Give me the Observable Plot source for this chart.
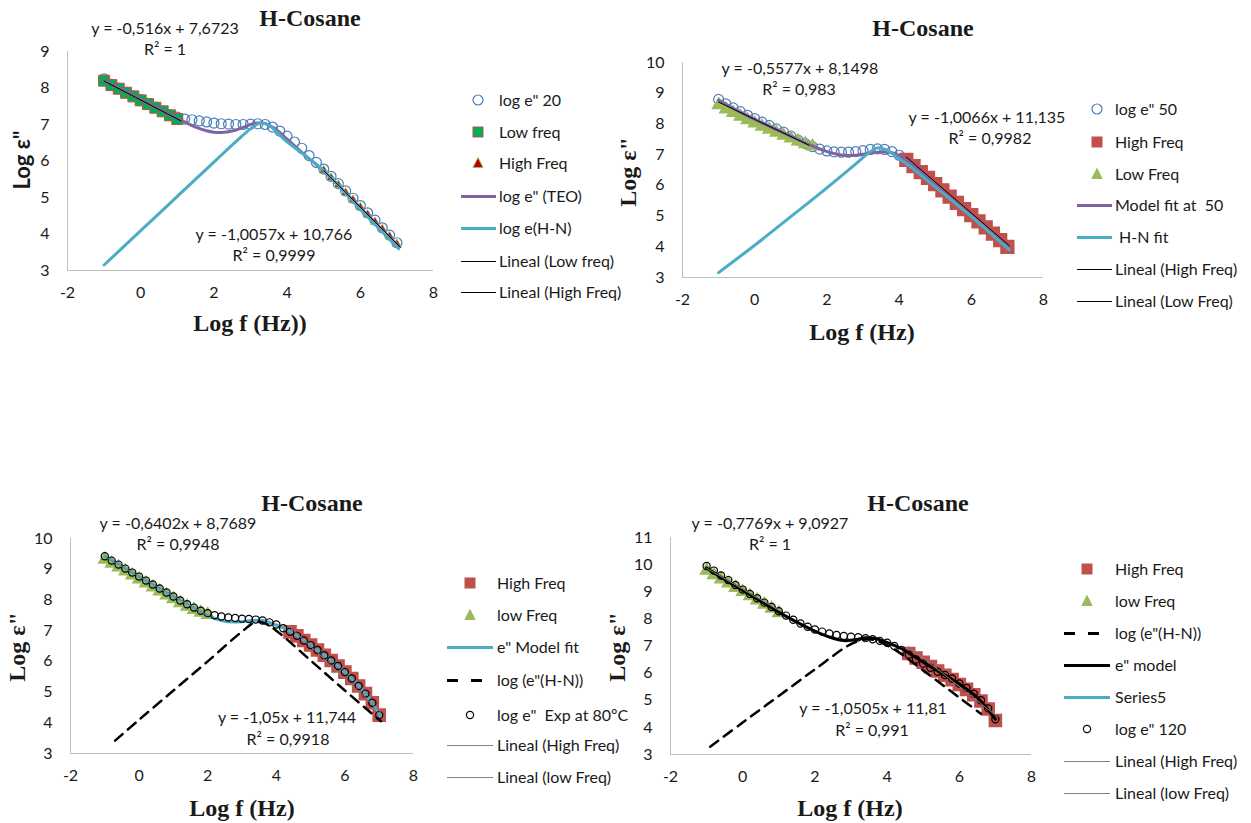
<!DOCTYPE html>
<html><head><meta charset="utf-8">
<script src="https://cdn.jsdelivr.net/npm/d3@7"></script>
<script src="https://cdn.jsdelivr.net/npm/@observablehq/plot@0.6"></script>
<style>
body{margin:0;width:1251px;height:823px;position:relative;background:#fff;overflow:hidden;font-family:Lato,sans-serif;color:#1a1a1a}
.abs{position:absolute;white-space:pre;line-height:1}
.title{font-family:"Liberation Serif",serif;font-weight:bold;font-size:24px;transform:translate(-50%,-50%)}
.ylab{font-family:"Liberation Serif",serif;font-weight:bold;font-size:24px;transform:translate(-50%,-50%) rotate(-90deg)}
.ylabs{font-family:Lato,sans-serif;font-weight:bold;font-size:22px;transform:translate(-50%,-50%) rotate(-90deg)}
.ann{font-size:16px;transform:translate(-50%,-50%)}
.leg{font-size:16px;transform:translateY(-50%)}
</style></head><body>
<script>
// ---------- shared ----------
const xTicks = [-2,0,2,4,6,8];
const grid = [-1,-0.8,-0.6,-0.4,-0.2,0,0.2,0.4,0.6,0.8,1,1.2,1.4,1.6,1.8,2,2.2,2.4,2.6,2.8,3,3.2,3.4,3.6,3.8,4,4.2,4.4,4.6,4.8,5,5.2,5.4,5.6,5.8,6,6.2,6.4,6.6,6.8,7];

// ---------- panel 1 (20) ----------
const p1YTicks = [3,4,5,6,7,8,9];
const p1Circle = [8.25,8.1,8.0,7.88,7.78,7.68,7.58,7.47,7.37,7.27,7.2,7.15,7.13,7.1,7.07,7.04,7.02,7.01,7.0,7.0,7.01,7.02,7.0,6.93,6.82,6.68,6.52,6.35,6.15,5.96,5.78,5.58,5.38,5.18,4.98,4.78,4.58,4.38,4.17,3.97,3.76];
const p1LowX = [-1,-0.8,-0.6,-0.4,-0.2,0,0.2,0.4,0.6,0.8,1];
const p1LowY = [8.2,8.08,7.98,7.87,7.77,7.66,7.56,7.46,7.36,7.25,7.15];
const p1HighX = [5,5.2,5.4,5.6,5.8,6,6.2,6.4,6.6,6.8,7];
const p1HighY = [5.74,5.54,5.34,5.13,4.93,4.73,4.53,4.33,4.13,3.93,3.72];
const p1TeoX = [-1,-0.5,0,0.5,1,1.2,1.5,1.8,2,2.2,2.5,2.8,3,3.2,3.4,3.6,3.8,4,4.5,5,6,7.05];
const p1TeoY = [8.2,7.95,7.68,7.42,7.17,7.07,6.93,6.83,6.79,6.78,6.82,6.92,7.0,7.04,7.03,6.93,6.78,6.6,6.15,5.72,4.72,3.66];
const p1HnX = [-1,0,1,2,2.6,3,3.27,3.5,3.96,5,6,7.05];
const p1HnY = [3.15,4.09,5.03,5.97,6.53,6.88,7.04,6.98,6.56,5.74,4.68,3.6];
const p1LinLowX = [-1,1.1], p1LinLowY = [8.19,7.1];
const p1LinHighX = [5,7.1], p1LinHighY = [5.74,3.63];
const p1Legend = ['log e" 20','Low freq','High Freq','log e" (TEO)','log e(H-N)','Lineal (Low freq)','Lineal (High Freq)'];
const p1Notes = ["y = -0,516x + 7,6723","R² = 1","y = -1,0057x + 10,766","R² = 0,9999"];

// ---------- panel 2 (50) ----------
const p2YTicks = [3,4,5,6,7,8,9,10];
const p2Circle = [8.8,8.65,8.52,8.4,8.28,8.17,8.06,7.95,7.84,7.73,7.6,7.47,7.36,7.26,7.18,7.12,7.09,7.08,7.08,7.1,7.13,7.17,7.19,7.17,7.1,6.98,6.85,6.66,6.46,6.26,6.06,5.86,5.66,5.46,5.26,5.06,4.86,4.66,4.46,4.26,4.05];
const p2HighX = [4.2,4.4,4.6,4.8,5,5.2,5.4,5.6,5.8,6,6.2,6.4,6.6,6.8,7];
const p2HighY = [6.83,6.63,6.43,6.24,6.04,5.84,5.63,5.43,5.23,5.03,4.83,4.63,4.43,4.22,4.0];
const p2LowX = [-1,-0.8,-0.6,-0.4,-0.2,0,0.2,0.4,0.6,0.8,1,1.2,1.4,1.6];
const p2LowY = [8.62,8.48,8.36,8.24,8.13,8.02,7.92,7.82,7.72,7.62,7.53,7.44,7.35,7.27];
const p2ModelX = [-1,-0.5,0,0.5,1,1.5,2,2.4,2.8,3.2,3.5,3.8,4,4.2,5,6,7.05];
const p2ModelY = [8.78,8.45,8.15,7.87,7.6,7.33,7.1,6.99,6.98,7.05,7.09,7.06,6.97,6.85,6.0,5.0,3.95];
const p2HnX = [-1,0,1,2,2.8,3.1,3.4,3.7,4,4.3,5,6,7.05];
const p2HnY = [3.16,4.05,4.98,5.92,6.7,7.0,7.22,7.12,6.87,6.62,5.95,4.98,3.9];
const p2LinHighX = [4.2,7.05], p2LinHighY = [6.92,4.04];
const p2LinLowX = [-1,1.5], p2LinLowY = [8.71,7.31];
const p2Legend = ['log e" 50','High Freq','Low Freq','Model fit at  50',' H-N fit','Lineal (High Freq)','Lineal (Low Freq)'];
const p2Notes = ["y = -0,5577x + 8,1498","R² = 0,983","y = -1,0066x + 11,135","R² = 0,9982"];

// ---------- panel 3 (80) ----------
const p3YTicks = [3,4,5,6,7,8,9,10];
const p3Circle = [9.42,9.28,9.15,9.02,8.89,8.76,8.63,8.5,8.37,8.24,8.11,7.98,7.86,7.75,7.65,7.57,7.5,7.46,7.43,7.41,7.39,7.38,7.36,7.33,7.27,7.2,7.08,6.96,6.83,6.68,6.53,6.37,6.2,6.03,5.85,5.65,5.44,5.2,4.95,4.65,4.25];
const p3LowX = [-1,-0.8,-0.6,-0.4,-0.2,0,0.2,0.4,0.6,0.8,1,1.2,1.4,1.6,1.8,2];
const p3LowY = [9.32,9.19,9.06,8.93,8.8,8.67,8.54,8.41,8.28,8.15,8.03,7.9,7.79,7.68,7.59,7.52];
const p3HighX = [4.4,4.6,4.8,5,5.2,5.4,5.6,5.8,6,6.2,6.4,6.6,6.8,7];
const p3HighY = [6.96,6.83,6.68,6.53,6.37,6.2,6.03,5.85,5.65,5.44,5.2,4.95,4.65,4.25];
const p3ModelX = [-1,0,1,1.5,2,2.4,2.8,3.2,3.6,4,4.4,5,6,6.6,7.05];
const p3ModelY = [9.42,8.76,8.1,7.8,7.5,7.33,7.28,7.32,7.33,7.18,6.98,6.53,5.65,4.95,4.2];
const p3HnX = [-0.7,0,1,2,3,3.4,3.7,4,5,6,7.05];
const p3HnY = [3.42,4.1,5.05,6.0,6.97,7.28,7.22,7.0,6.03,5.05,4.05];
const p3LinHighX = [4.4,7.05], p3LinHighY = [7.12,4.34];
const p3LinLowX = [-1,2], p3LinLowY = [9.41,7.49];
const p3Legend = ['High Freq','low Freq','e" Model fit','log (e"(H-N))','log e"  Exp at 80ºC','Lineal (High Freq)','Lineal (low Freq)'];
const p3Notes = ["y = -0,6402x + 8,7689","R² = 0,9948","y = -1,05x + 11,744","R² = 0,9918"];

// ---------- panel 4 (120) ----------
const p4YTicks = [3,4,5,6,7,8,9,10,11];
const p4Circle = [9.95,9.78,9.6,9.43,9.25,9.08,8.92,8.76,8.6,8.44,8.28,8.12,7.97,7.83,7.71,7.61,7.53,7.46,7.41,7.37,7.34,7.32,7.29,7.25,7.19,7.12,7.0,6.85,6.68,6.5,6.35,6.2,6.05,5.93,5.8,5.62,5.45,5.24,5.0,4.7,4.3];
const p4LowX = [-1,-0.8,-0.6,-0.4,-0.2,0,0.2,0.4,0.6,0.8,1];
const p4LowY = [9.78,9.62,9.46,9.31,9.15,9.0,8.84,8.69,8.53,8.38,8.22];
const p4HighX = [4.6,4.8,5,5.2,5.4,5.6,5.8,6,6.2,6.4,6.6,6.8,7];
const p4HighY = [6.72,6.56,6.4,6.24,6.08,5.92,5.76,5.58,5.4,5.2,4.97,4.68,4.25];
const p4ModelX = [-1,-0.5,0,0.5,1,1.5,2,2.4,2.8,3.1,3.4,3.7,4,4.4,5,5.5,6,6.5,7];
const p4ModelY = [9.88,9.45,9.05,8.65,8.25,7.88,7.55,7.33,7.2,7.23,7.3,7.27,7.13,6.9,6.4,6.0,5.6,5.1,4.3];
const p4HnX = [-0.9,0,1,2,2.9,3.2,3.5,3.8,4.1,4.4,5,6,6.6];
const p4HnY = [3.29,4.18,5.16,6.14,7.0,7.18,7.25,7.15,6.95,6.7,6.1,5.1,4.5];
const p4LinHighX = [4.6,7.05], p4LinHighY = [6.98,4.4];
const p4LinLowX = [-1,1], p4LinLowY = [9.87,8.32];
const p4Legend = ['High Freq','low Freq','log (e"(H-N))','e" model','Series5','log e" 120','Lineal (High Freq)','Lineal (low Freq)'];
const p4Notes = ["y = -0,7769x + 9,0927","R² = 1","y = -1,0505x + 11,81","R² = 0,991"];

const titleText = "H-Cosane";
const yLabelText = 'Log ε"';

// ---------- colours ----------
const BLUE="#4a7ebb", PURPLE="#8064a2", CYAN="#4bacc6", RED="#c0504d", GREEN="#9bbb59", DKRED="#c00000", BGREEN="#00b050", AXIS="#bfbfbf";

const zip = (xs, ys) => xs.map((x, i) => ({x, y: ys[i]}));
const P = {x: "x", y: "y"};
const fmt = d => String(d);

function makePanel({left, top, ml, mt, pw, ph, yDomain, yTicks, marks}) {
  const svg = Plot.plot({
    width: ml + pw + 20, height: mt + ph + 40,
    marginLeft: ml, marginTop: mt, marginRight: 20, marginBottom: 40,
    style: {fontFamily: "Lato, sans-serif", fontSize: "16px", color: "#1a1a1a", background: "transparent", overflow: "visible"},
    x: {domain: [-2, 8], ticks: xTicks, tickFormat: fmt, tickSize: 0, tickPadding: 16, label: null},
    y: {domain: yDomain, ticks: yTicks, tickFormat: fmt, tickSize: 0, tickPadding: 18, label: null},
    marks: [
      Plot.ruleY([yDomain[0]], {stroke: AXIS}),
      Plot.ruleX([-2], {stroke: AXIS}),
      ...marks
    ]
  });
  svg.style.position = "absolute";
  svg.style.left = left + "px";
  svg.style.top = top + "px";
  document.body.appendChild(svg);
}

const lin = (xs, ys, c) => Plot.line(zip(xs, ys), {...P, stroke: c, strokeWidth: 1});
const smooth = (xs, ys, c, w, dash) => Plot.line(zip(xs, ys), {...P, stroke: c, strokeWidth: w, curve: "catmull-rom", strokeDasharray: dash});

// Panel 1
makePanel({left: 0, top: 0, ml: 67, mt: 51, pw: 366, ph: 219, yDomain: [3, 9], yTicks: p1YTicks, marks: [
  Plot.dot(zip(grid, p1Circle), {...P, r: 5, stroke: BLUE, fill: "none", strokeWidth: 1.2}),
  Plot.dot(zip(p1LowX, p1LowY), {...P, symbol: "square", r: 6.2, fill: BGREEN, stroke: RED, strokeWidth: 1}),
  Plot.dot(zip(p1HighX, p1HighY), {...P, symbol: "triangle", r: 3.2, fill: DKRED, stroke: GREEN, strokeWidth: 1}),
  smooth(p1TeoX, p1TeoY, PURPLE, 3),
  smooth(p1HnX, p1HnY, CYAN, 3),
  lin(p1LinLowX, p1LinLowY, "#000"),
  lin(p1LinHighX, p1LinHighY, "#000")
]});

// Panel 2
makePanel({left: 600, top: 0, ml: 82, mt: 62, pw: 361, ph: 215, yDomain: [3, 10], yTicks: p2YTicks, marks: [
  Plot.dot(zip(grid, p2Circle), {...P, r: 5, stroke: BLUE, fill: "none", strokeWidth: 1.2}),
  Plot.dot(zip(p2HighX, p2HighY), {...P, symbol: "square", r: 7.2, fill: RED, stroke: RED}),
  Plot.dot(zip(p2LowX, p2LowY), {...P, symbol: "triangle", r: 4.5, fill: GREEN, stroke: GREEN}),
  smooth(p2ModelX, p2ModelY, PURPLE, 3),
  smooth(p2HnX, p2HnY, CYAN, 3),
  lin(p2LinHighX, p2LinHighY, "#000"),
  lin(p2LinLowX, p2LinLowY, "#000")
]});

// Panel 3
makePanel({left: 0, top: 480, ml: 70, mt: 58, pw: 343, ph: 215, yDomain: [3, 10], yTicks: p3YTicks, marks: [
  Plot.dot(zip(p3HighX, p3HighY), {...P, symbol: "square", r: 6.8, fill: RED, stroke: RED}),
  Plot.dot(zip(p3LowX, p3LowY), {...P, symbol: "triangle", r: 4.5, fill: GREEN, stroke: GREEN}),
  smooth(p3ModelX, p3ModelY, CYAN, 3),
  smooth(p3HnX, p3HnY, "#000", 2.5, "10,7"),
  Plot.dot(zip(grid, p3Circle), {...P, r: 3.6, stroke: "#000", fill: "none", strokeWidth: 1.2}),
  lin(p3LinHighX, p3LinHighY, "#808080"),
  lin(p3LinLowX, p3LinLowY, "#808080")
]});

// Panel 4
makePanel({left: 590, top: 480, ml: 80, mt: 57, pw: 361, ph: 217, yDomain: [3, 11], yTicks: p4YTicks, marks: [
  Plot.dot(zip(p4HighX, p4HighY), {...P, symbol: "square", r: 6.8, fill: RED, stroke: RED}),
  Plot.dot(zip(p4LowX, p4LowY), {...P, symbol: "triangle", r: 4.5, fill: GREEN, stroke: GREEN}),
  smooth(p4HnX, p4HnY, "#000", 2.5, "10,7"),
  smooth(p4ModelX, p4ModelY, "#000", 3),
  Plot.dot(zip(grid, p4Circle), {...P, r: 3.6, stroke: "#000", fill: "none", strokeWidth: 1.2}),
  lin(p4LinHighX, p4LinHighY, "#808080"),
  lin(p4LinLowX, p4LinLowY, "#808080")
]});

// ---------- text ----------
function addText(cls, txt, x, y) {
  const d = document.createElement("div");
  d.className = "abs " + cls;
  d.textContent = txt;
  d.style.left = x + "px"; d.style.top = y + "px";
  document.body.appendChild(d);
}
[[310,18],[923,28],[312,503],[918,503]].forEach(([x,y]) => addText("title", titleText, x, y));
addText("ylabs", yLabelText, 22, 160);
[[628,172],[17,647],[617,647]].forEach(([x,y]) => addText("ylab", yLabelText, x, y));
addText("title", "Log f (Hz))", 250, 323);
addText("title", "Log f (Hz)", 862, 332);
addText("title", "Log f (Hz)", 242, 808);
addText("title", "Log f (Hz)", 850, 808);

const notePos = [
  [[165,28],[165,49],[274,234],[274,255]],
  [[800,68],[799,89],[987,117],[990,138]],
  [[178,523],[178,544],[287,717],[288,739]],
  [[770,523],[770,544],[873,708],[872,730]]
];
[p1Notes, p2Notes, p3Notes, p4Notes].forEach((notes, k) =>
  notes.forEach((t, i) => addText("ann", t, notePos[k][i][0], notePos[k][i][1])));

// ---------- legends ----------
const ov = d3.select("body").append("svg")
  .attr("width", 1251).attr("height", 823)
  .style("position", "absolute").style("left", 0).style("top", 0).style("pointer-events", "none");

function legend(labels, specs, {mx, lx1, lx2, tx, ys}) {
  labels.forEach((lab, i) => {
    const s = specs[i], y = ys[i];
    if (s.k === "circle") ov.append("circle").attr("cx", mx).attr("cy", y).attr("r", s.r).attr("fill", "none").attr("stroke", s.c).attr("stroke-width", 1.2);
    else if (s.k === "square") ov.append("rect").attr("x", mx - s.s/2).attr("y", y - s.s/2).attr("width", s.s).attr("height", s.s).attr("fill", s.f).attr("stroke", s.c);
    else if (s.k === "tri") ov.append("path").attr("d", `M${mx},${y - s.s*0.55}L${mx + s.s/2},${y + s.s*0.45}L${mx - s.s/2},${y + s.s*0.45}Z`).attr("fill", s.f).attr("stroke", s.c);
    else if (s.k === "line") ov.append("line").attr("x1", lx1).attr("x2", lx2).attr("y1", y + 0.5).attr("y2", y + 0.5).attr("stroke", s.c).attr("stroke-width", s.w).attr("stroke-dasharray", s.d || null);
    addText("leg", lab, tx, y);
  });
}
legend(p1Legend, [
  {k:"circle", c:BLUE, r:5}, {k:"square", s:10, f:BGREEN, c:RED}, {k:"tri", s:10, f:DKRED, c:GREEN},
  {k:"line", c:PURPLE, w:3}, {k:"line", c:CYAN, w:3}, {k:"line", c:"#000", w:1}, {k:"line", c:"#000", w:1}
], {mx:478, lx1:461, lx2:496, tx:499, ys:[100,132,163,196,228,261,292]});
legend(p2Legend, [
  {k:"circle", c:BLUE, r:5}, {k:"square", s:10, f:RED, c:RED}, {k:"tri", s:10, f:GREEN, c:GREEN},
  {k:"line", c:PURPLE, w:3}, {k:"line", c:CYAN, w:3}, {k:"line", c:"#000", w:1}, {k:"line", c:"#000", w:1}
], {mx:1097, lx1:1077, lx2:1112, tx:1115, ys:[109,142,174,205,237,269,301]});
legend(p3Legend, [
  {k:"square", s:10, f:RED, c:RED}, {k:"tri", s:10, f:GREEN, c:GREEN},
  {k:"line", c:CYAN, w:3}, {k:"line", c:"#000", w:3, d:"11,13"}, {k:"circle", c:"#000", r:3.6},
  {k:"line", c:"#808080", w:1}, {k:"line", c:"#808080", w:1}
], {mx:470, lx1:447, lx2:493, tx:497, ys:[583,615,647,680,715,745,777]});
legend(p4Legend, [
  {k:"square", s:10, f:RED, c:RED}, {k:"tri", s:10, f:GREEN, c:GREEN},
  {k:"line", c:"#000", w:3, d:"11,13"}, {k:"line", c:"#000", w:3}, {k:"line", c:CYAN, w:3},
  {k:"circle", c:"#000", r:3.6}, {k:"line", c:"#808080", w:1}, {k:"line", c:"#808080", w:1}
], {mx:1087, lx1:1064, lx2:1110, tx:1115, ys:[569,601,633,665,697,729,761,793]});
</script>
</body></html>
